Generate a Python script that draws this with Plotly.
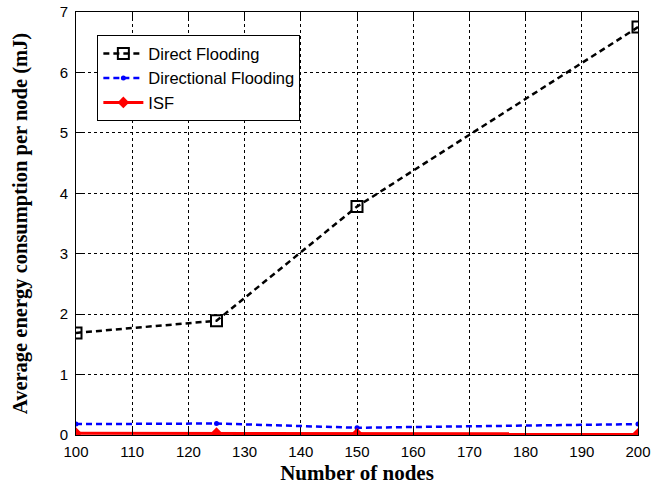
import plotly.graph_objects as go

nodes = [100, 125, 150, 200]
direct_flooding = [1.69, 1.89, 3.78, 6.75]
directional_flooding = [0.18, 0.19, 0.12, 0.18]
isf = [0.03, 0.03, 0.02, 0.02]

x_ticks = [100, 110, 120, 130, 140, 150, 160, 170, 180, 190, 200]
y_ticks = [0, 1, 2, 3, 4, 5, 6, 7]

fig = go.Figure()
fig.add_trace(go.Scatter(
    x=nodes, y=direct_flooding, name="Direct Flooding", mode="lines+markers",
    line=dict(color="black", width=2.5, dash="6px,4px"),
    marker=dict(symbol="square-open", size=11, color="black", line=dict(width=2)),
))
fig.add_trace(go.Scatter(
    x=nodes, y=directional_flooding, name="Directional Flooding", mode="lines+markers",
    line=dict(color="blue", width=2.5, dash="6px,4px"),
    marker=dict(symbol="circle", size=5, color="blue"),
))
fig.add_trace(go.Scatter(
    x=nodes, y=isf, name="ISF", mode="lines+markers",
    line=dict(color="red", width=3),
    marker=dict(symbol="diamond", size=9, color="red"),
))

axis_common = dict(
    showgrid=True, gridcolor="black", griddash="3px,3px", gridwidth=1,
    showline=True, linecolor="black", linewidth=1, mirror="ticks",
    ticks="inside", ticklen=6, tickcolor="black",
    zeroline=False, automargin=False,
    tickfont=dict(family="Liberation Sans, Arial", size=15, color="black"),
)

fig.update_xaxes(
    range=[100, 200], tickvals=x_ticks, ticklabelstandoff=3,
    title=dict(text="<b>Number of nodes</b>", font=dict(family="Liberation Serif, Times New Roman", size=21, color="black"), standoff=6),
    **axis_common,
)
fig.update_yaxes(
    range=[0, 7], tickvals=y_ticks, ticklabelstandoff=4,
    title=dict(text="<b>Average energy consumption per node (mJ)</b>", font=dict(family="Liberation Serif, Times New Roman", size=20.5, color="black"), standoff=26),
    **axis_common,
)

fig.update_layout(
    width=662, height=485,
    margin=dict(l=76, r=24, t=12, b=50),
    paper_bgcolor="white", plot_bgcolor="white",
    showlegend=True,
    legend=dict(
        x=0.038, y=0.945, xanchor="left", yanchor="top",
        bgcolor="white", bordercolor="black", borderwidth=1,
        font=dict(family="Liberation Sans, Arial", size=16.5, color="black"),
        tracegroupgap=0, itemwidth=40,
    ),
)

fig.write_html("out.html")
